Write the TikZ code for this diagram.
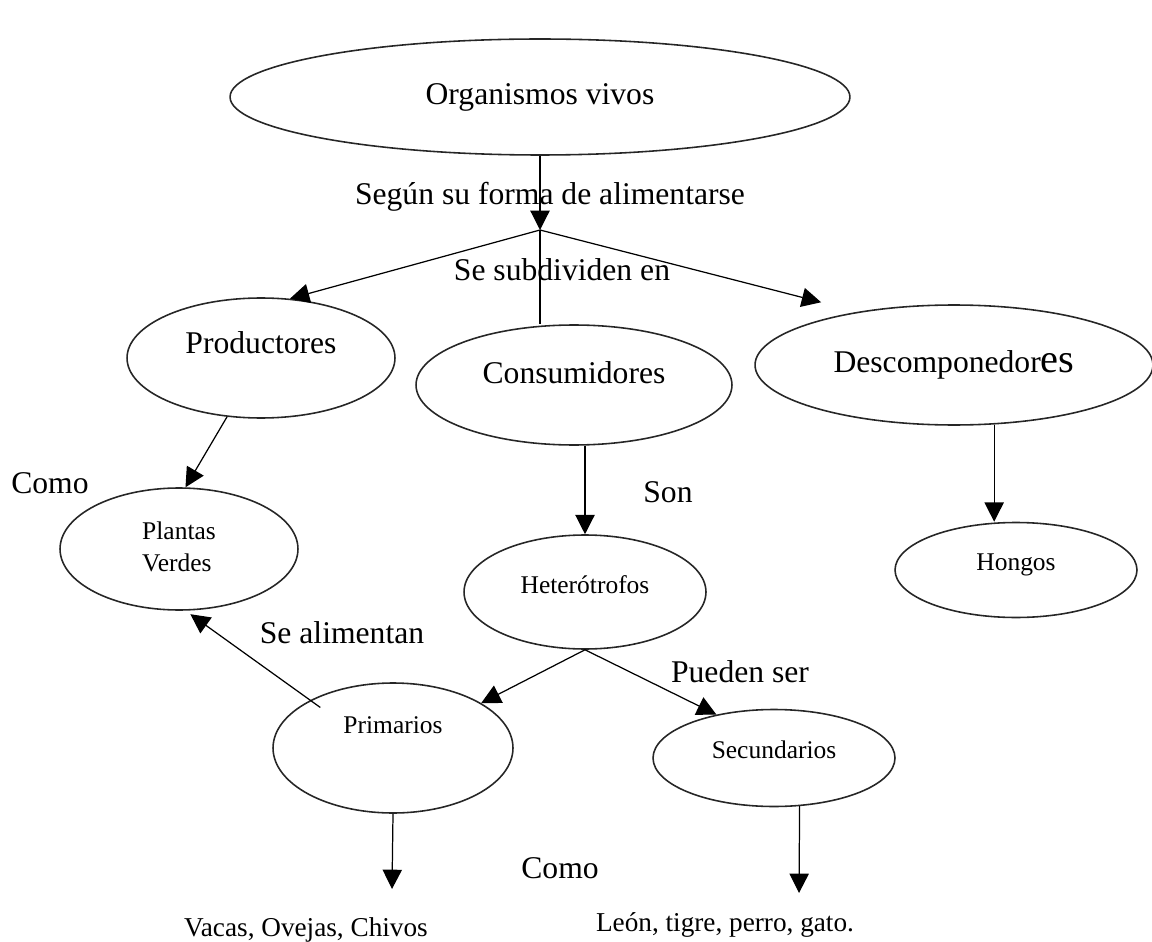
\documentclass[tikz,border=0pt]{standalone}
\usepackage{fontspec}
\setmainfont{Liberation Serif}
\usetikzlibrary{shapes.geometric, arrows.meta}

\begin{document}
\begin{tikzpicture}[x=0.02cm, y=-0.02cm,
    concept/.style={ellipse, draw=black!85, line width=0.9pt, inner sep=0pt,
                    font=\fontsize{18}{21}\selectfont},
    small_concept/.style={concept, font=\fontsize{14.5}{18}\selectfont},
    arrow/.style={line width=0.7pt, -{Triangle[length=11pt, width=11pt]}},
    link/.style={line width=0.7pt},
    link_text/.style={font=\fontsize{18}{21}\selectfont, inner sep=1pt},
    example_text/.style={font=\fontsize{15.5}{18}\selectfont, inner sep=1pt}]

    \useasboundingbox (0,0) rectangle (1152,942);

    % concepts
    \node[concept, minimum width=12.4cm, minimum height=2.32cm] (organismos) at (540,97) {Organismos vivos};
    \node[concept, minimum width=5.36cm, minimum height=2.4cm] (productores) at (261,358) {\raisebox{0.6cm}{Productores}};
    \node[concept, minimum width=6.32cm, minimum height=2.4cm] (consumidores) at (574,385) {\raisebox{0.48cm}{Consumidores}\hspace{0.12cm}};
    \node[concept, minimum width=7.96cm, minimum height=2.4cm] (descomp) at (954,365) {Descomponedor{\fontsize{23}{24}\selectfont es}};
    \node[small_concept, minimum width=4.76cm, minimum height=2.44cm] (plantas) at (179,549)
        {\begin{tabular}{@{}l@{}}Plantas\\Verdes\end{tabular}\hspace{1.28cm}};
    \node[small_concept, minimum width=4.84cm, minimum height=2.28cm] (hetero) at (585,592) {\raisebox{0.28cm}{Heterótrofos}};
    \node[small_concept, minimum width=4.84cm, minimum height=1.9cm] (hongos) at (1016,570) {\raisebox{0.32cm}{Hongos}};
    \node[small_concept, minimum width=4.8cm, minimum height=2.6cm] (primarios) at (393,748) {\raisebox{0.92cm}{Primarios}\hspace{0.76cm}};
    \node[small_concept, minimum width=4.84cm, minimum height=1.94cm] (secundarios) at (774,758) {\raisebox{0.32cm}{Secundarios}};

    % texts on the links
    \node[link_text] (forma) at (550,197) {Según su forma de alimentarse};
    \node[link_text] (subdiv) at (562,270) {Se subdividen en};
    \node[link_text] (como_a) at (50,483) {Como};
    \node[link_text] (son) at (668,492) {Son};
    \node[link_text] (alimentan) at (342,633) {Se alimentan};
    \node[link_text] (pueden) at (740,672) {Pueden ser};
    \node[link_text] (como_b) at (560,868) {Como};
    \node[example_text] (vacas) at (306,930) {Vacas, Ovejas, Chivos};
    \node[example_text] (leon) at (725,925) {León, tigre, perro, gato.};

    \coordinate (split) at (540,230);
    \coordinate (vacas_tip) at (392,889);
    \coordinate (leon_tip) at (799,893);

    % links
    \draw[arrow] (organismos) -- (split);
    \draw[arrow] (split) -- (productores.64);
    \draw[arrow, shorten >=0.76cm] (split) -- (descomp.151);
    \draw[link] (split) -- (split |- consumidores.north);
    \draw[arrow] (productores.240) -- (plantas.84);
    \draw[arrow] (hetero.north |- consumidores.south) -- (hetero.north);
    \draw[arrow] (descomp.-56) -- (descomp.-56 |- hongos.north);
    \draw[arrow] (hetero.south) -- (primarios.27);
    \draw[arrow] (hetero.south) -- (secundarios.143);
    \draw[arrow, shorten <=-0.25cm, shorten >=0.12cm] (primarios.150) -- (plantas.-84);
    \draw[arrow] (primarios.south) -- (vacas_tip);
    \draw[arrow] (secundarios.-62) -- (leon_tip);

\end{tikzpicture}
\end{document}
